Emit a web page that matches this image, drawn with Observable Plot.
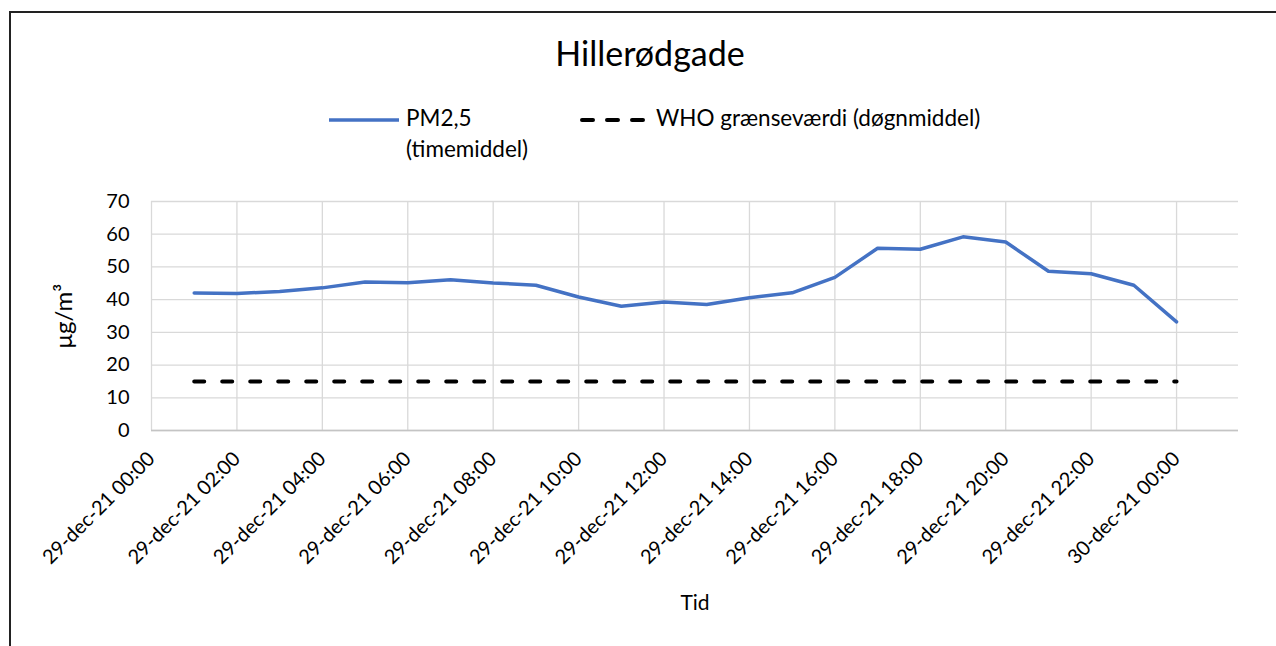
<!DOCTYPE html>
<html><head><meta charset="utf-8">
<script src="https://cdn.jsdelivr.net/npm/d3@7"></script>
<script src="https://cdn.jsdelivr.net/npm/@observablehq/plot@0.6"></script>
<style>
body{margin:0;background:#fff;font-family:Lato,sans-serif;color:#000;}
#wrap{position:relative;width:1276px;height:646px;overflow:hidden;background:#fff;}
#frame{position:absolute;left:9px;top:11px;width:1400px;height:800px;border-left:2px solid #222;border-top:2px solid #222;}
#header{position:relative;height:170px;}
#title{position:absolute;left:650px;top:33px;transform:translateX(-50%);font-size:34px;line-height:1.2;white-space:nowrap;}
.leg{position:absolute;display:flex;align-items:flex-start;font-size:22.5px;line-height:31px;white-space:pre-line;}
.leg svg{margin-top:13px;margin-right:5px;}
#chart{position:absolute;left:0;top:170px;}
</style></head>
<body>
<div id="wrap">
<div id="frame"></div>
<div id="header"><div id="title"></div><div id="legend"></div></div>
<div id="chart"></div>
</div>
<script>
const chartTitle = "Hillerødgade";
const times = [
 "2021-12-29T01:00Z","2021-12-29T02:00Z","2021-12-29T03:00Z","2021-12-29T04:00Z",
 "2021-12-29T05:00Z","2021-12-29T06:00Z","2021-12-29T07:00Z","2021-12-29T08:00Z",
 "2021-12-29T09:00Z","2021-12-29T10:00Z","2021-12-29T11:00Z","2021-12-29T12:00Z",
 "2021-12-29T13:00Z","2021-12-29T14:00Z","2021-12-29T15:00Z","2021-12-29T16:00Z",
 "2021-12-29T17:00Z","2021-12-29T18:00Z","2021-12-29T19:00Z","2021-12-29T20:00Z",
 "2021-12-29T21:00Z","2021-12-29T22:00Z","2021-12-29T23:00Z","2021-12-30T00:00Z"];
const pm25 = [42.0, 41.9, 42.5, 43.6, 45.4, 45.2, 46.1, 45.1, 44.4, 40.8, 38.0, 39.3,
              38.5, 40.6, 42.1, 46.8, 55.7, 55.4, 59.2, 57.6, 48.7, 47.9, 44.4, 33.2];
const whoLimit = 15;
const seriesNames = ["PM2,5\n(timemiddel)", "WHO grænseværdi (døgnmiddel)"];
const seriesColors = ["#4472C4", "#000000"];
const yTicks = [0, 10, 20, 30, 40, 50, 60, 70];
const xTickStrings = ["2021-12-29T00:00Z","2021-12-29T02:00Z","2021-12-29T04:00Z","2021-12-29T06:00Z",
 "2021-12-29T08:00Z","2021-12-29T10:00Z","2021-12-29T12:00Z","2021-12-29T14:00Z","2021-12-29T16:00Z",
 "2021-12-29T18:00Z","2021-12-29T20:00Z","2021-12-29T22:00Z","2021-12-30T00:00Z"];
const monthsDa = ["jan","feb","mar","apr","maj","jun","jul","aug","sep","okt","nov","dec"];
const xDomain = ["2021-12-29T00:00Z", "2021-12-30T01:27Z"];
const yLabel = "μg/m³";
const xLabel = "Tid";

document.getElementById("title").textContent = chartTitle;

// legend
const legendPos = [{left: 329, top: 102}, {left: 579, top: 102}];
const legend = document.getElementById("legend");
seriesNames.forEach((name, i) => {
  const d = document.createElement("div");
  d.className = "leg";
  d.style.left = legendPos[i].left + "px";
  d.style.top = legendPos[i].top + "px";
  const dash = i === 1 ? 'stroke-dasharray="11,14" stroke-linecap="round"' : '';
  const sw = i === 1 ? 4 : 3.5;
  d.innerHTML = `<svg width="72" height="10"><line x1="${i===1?3:0}" x2="70" y1="5" y2="5" stroke="${seriesColors[i]}" stroke-width="${sw}" ${dash}/></svg><span></span>`;
  d.querySelector("span").textContent = name;
  legend.appendChild(d);
});

const pmData = times.map((t, i) => ({t: new Date(t), v: pm25[i]}));
const whoData = times.map(t => ({t: new Date(t), v: whoLimit}));
const xTicks = xTickStrings.map(s => new Date(s));
const fmt = d => `${d3.utcFormat("%d")(d)}-${monthsDa[d.getUTCMonth()]}-${d3.utcFormat("%y %H:%M")(d)}`;

const plot = Plot.plot({
  width: 1276, height: 476,
  marginTop: 31, marginBottom: 216, marginLeft: 151, marginRight: 38,
  x: {type: "utc", domain: xDomain.map(s => new Date(s))},
  y: {domain: [0, 70]},
  style: {fontFamily: "Lato", fontSize: "20px", color: "#000", background: "transparent"},
  marks: [
    Plot.gridY(yTicks, {stroke: "#d9d9d9", strokeOpacity: 1, strokeWidth: 1.3}),
    Plot.gridX(xTicks, {stroke: "#d9d9d9", strokeOpacity: 1, strokeWidth: 1.3}),
    Plot.ruleY([0], {stroke: "#c4c4c4", strokeWidth: 1.6}),
    Plot.axisY(yTicks, {tickSize: 0, tickPadding: 22, label: null}),
    Plot.axisX(xTicks, {tickSize: 0, tickPadding: 25, tickRotate: -45, tickFormat: fmt, label: null}),
    Plot.lineY(whoData, {x: "t", y: "v", stroke: seriesColors[1], strokeWidth: 4, strokeDasharray: "10,18", strokeLinecap: "round"}),
    Plot.lineY(pmData, {x: "t", y: "v", stroke: seriesColors[0], strokeWidth: 3.5}),
    Plot.text([yLabel], {text: d => d, frameAnchor: "left", dx: -87, rotate: -90, fontSize: 24, textAnchor: "middle", lineAnchor: "middle"}),
    Plot.text([xLabel], {text: d => d, frameAnchor: "bottom", dy: 173, fontSize: 21, textAnchor: "middle", lineAnchor: "middle"})
  ]
});
document.getElementById("chart").appendChild(plot);
</script>
</body></html>
